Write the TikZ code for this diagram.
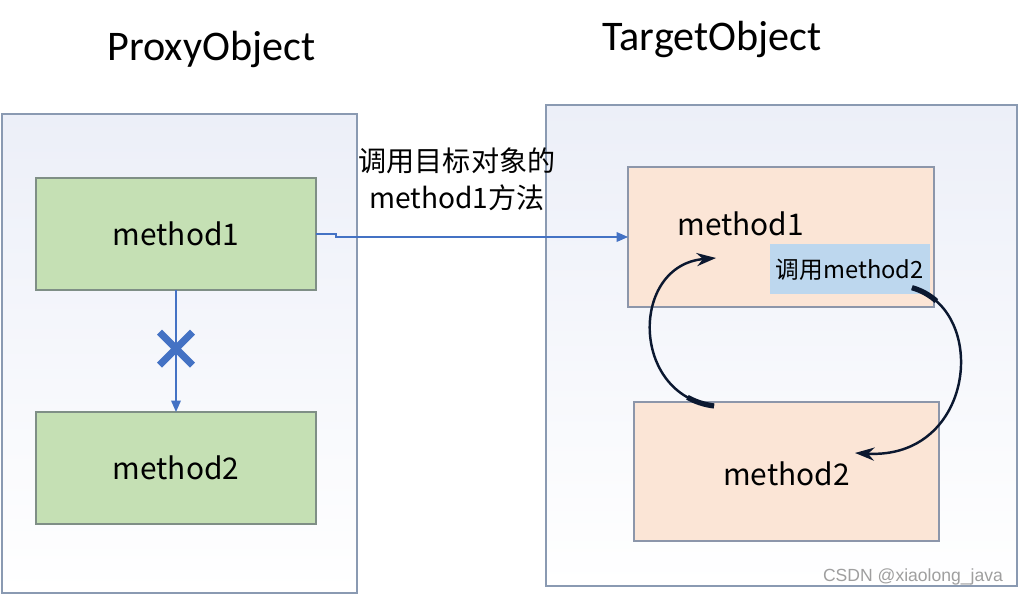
\documentclass[tikz,border=0pt]{standalone}
\usepackage{fontspec}
\setmainfont{Carlito}
\newfontfamily\cjk{Noto Sans CJK SC}
\newfontfamily\wmfont{Liberation Sans}
\usetikzlibrary{positioning, arrows.meta, calc, shapes.misc}
\definecolor{framegray}{HTML}{8A9AB2}
\definecolor{frametop}{HTML}{ECEFF8}
\definecolor{greenfill}{HTML}{C5E0B4}
\definecolor{greenline}{HTML}{7F8F86}
\definecolor{peachfill}{HTML}{FBE5D6}
\definecolor{peachline}{HTML}{8C96AA}
\definecolor{callfill}{HTML}{BDD7EE}
\definecolor{linkblue}{HTML}{4472C4}
\definecolor{loopnavy}{HTML}{0B1830}
\tikzset{
  frame box/.style={draw=framegray, line width=0.7pt, top color=frametop, bottom color=white, outer sep=0pt},
  green box/.style={draw=greenline, line width=0.7pt, fill=greenfill, minimum width=5.6cm, minimum height=2.24cm, outer sep=0pt, font=\cjk\fontsize{17}{20}\selectfont},
  peach box/.style={draw=peachline, line width=0.7pt, fill=peachfill, minimum width=6.1cm, minimum height=2.78cm, outer sep=0pt},
  title/.style={font=\fontsize{24}{28}\selectfont, anchor=base},
  method text/.style={font=\cjk\fontsize{17}{20}\selectfont, inner sep=0pt},
  loop line/.style={loopnavy, line width=1.4pt},
  loop head/.style={dash pattern=on 16pt off 600pt, line width=3pt, loopnavy},
}

\begin{document}
\begin{tikzpicture}[x=0.02cm, y=-0.02cm]
		\useasboundingbox (0,0) rectangle (1019,595);
		% Frames
		\node[frame box, minimum width=7.1cm, minimum height=9.58cm] (proxy) at (179.5,353.5) {};
		\node[frame box, minimum width=9.42cm, minimum height=9.62cm] (target) at (781.5,345.5) {};
		\node[title] (proxyname) at (211.5,60) {ProxyObject};
		\node[title] (targetname) at (712,51) {TargetObject};
		% Proxy methods
		\node[green box] (gm1) at (176,234) {method1};
		\node[green box] [below = 2.44cm of gm1] (gm2) {method2};
		% Target methods
		\node[peach box, minimum width=6.12cm, minimum height=2.8cm] (pm1) at (781,237) {};
		\node[peach box] [below = 1.9cm of pm1, xshift=0.11cm] (pm2) {};
		\node[fill=callfill, minimum width=3.18cm, minimum height=1.0cm, font=\cjk\fontsize{13.5}{16}\selectfont]
			[below left = 1.54cm and 0.08cm of pm1.north east] (call) {调用method2};
		\node[method text, anchor=west] (pm1name) at ($(pm1.west)+(49,-13)$) {method1};
		\node[method text] (pm2name) at ($(pm2.center)+(0,2)$) {method2};
		% Paths
		\draw[linkblue, line width=0.8pt, -{Triangle[length=6.5pt, width=5.5pt]}]
			(gm1.east) -- ++(20,0) |- (pm1.west);
		\node[align=center, font=\cjk\fontsize{16}{21}\selectfont] (calllabel) at (457,179) {调用目标对象的\\method1方法};
		\draw[linkblue, line width=0.8pt, -{Triangle[length=6.5pt, width=5.5pt]}] (gm1.south) -- (gm2.north);
		\node[cross out, draw=linkblue, line width=4pt, minimum size=0.52cm, inner sep=0pt] (blocked)
			at ($(gm1.south)!0.48!(gm2.north)$) {};
		% Loop between target methods
		\coordinate (loopstart) at ($(pm2.north west)+(80,4)$);
		\coordinate (loopend) at ($(pm1.west)+(88,21)$);
		\coordinate (backstart) at ($(call.south east)+(-18,-7)$);
		\coordinate (backend) at ($(pm2.north west)+(221,51)$);
		\draw[loop line, -{Stealth[length=11pt, width=7.5pt]}]
			(loopstart) .. controls (630,395) and (630,265) .. (loopend);
		\draw[loop head] (loopstart) .. controls (630,395) and (630,265) .. (loopend);
		\draw[loop line, -{Stealth[length=11pt, width=7.5pt]}]
			(backstart) .. controls (990,310) and (975,460) .. (backend);
		\draw[loop head] (backstart) .. controls (990,310) and (975,460) .. (backend);
		\node[text=gray!75, font=\wmfont\fontsize{10}{12}\selectfont] (mark) at (913,577) {CSDN @xiaolong\_java};
	\end{tikzpicture}
\end{document}
